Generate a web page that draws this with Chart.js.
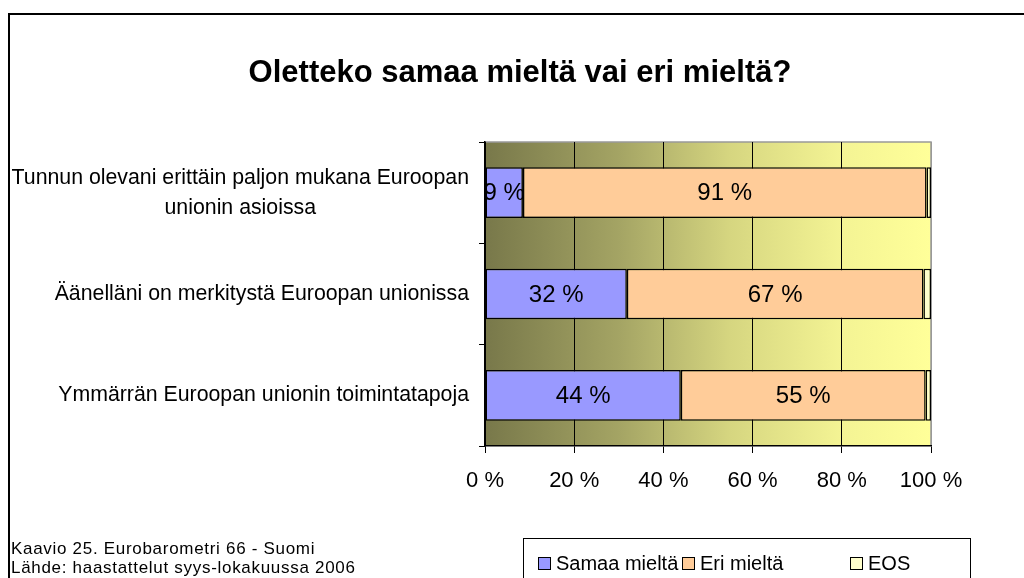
<!DOCTYPE html>
<html>
<head>
<meta charset="utf-8">
<script src="https://cdn.jsdelivr.net/npm/chart.js@4/dist/chart.umd.min.js"></script>
<style>
  html, body { margin: 0; padding: 0; background: #fff; }
  #wrap { width: 1024px; height: 578px; position: relative; }
</style>
</head>
<body>
<div id="wrap"><canvas id="myChart" width="1024" height="578"></canvas></div>
<script>
const categories = [
  ['Tunnun olevani erittäin paljon mukana Euroopan', 'unionin asioissa'],
  ['Äänelläni on merkitystä Euroopan unionissa'],
  ['Ymmärrän Euroopan unionin toimintatapoja']
];
const seriesNames = ['Samaa mieltä', 'Eri mieltä', 'EOS'];
const samaa = [8.5, 31.8, 43.9];
const eri = [90.5, 66.5, 54.9];
const eos = [1.0, 1.7, 1.2];
const xTicks = [0, 20, 40, 60, 80, 100];
const colors = ['#9999ff', '#ffcc99', '#ffffcc'];

const FONT = 'Arial, "Liberation Sans", sans-serif';
const ctx = document.getElementById('myChart').getContext('2d');

const frame = {
  id: 'frame',
  beforeDraw(chart) {
    const c = chart.ctx;
    const a = chart.chartArea;
    c.save();
    c.fillStyle = '#fff';
    c.fillRect(0, 0, chart.width, chart.height);
    // outer border (top + left only visible)
    c.strokeStyle = '#000';
    c.lineWidth = 2;
    c.beginPath();
    c.moveTo(9, chart.height + 2);
    c.lineTo(9, 14);
    c.lineTo(chart.width + 2, 14);
    c.stroke();
    // plot background gradient
    const g = c.createLinearGradient(a.left, 0, a.right, 0);
    g.addColorStop(0, '#78784a');
    g.addColorStop(0.3, '#a4a464');
    g.addColorStop(0.55, '#d6d680');
    g.addColorStop(0.8, '#f4f494');
    g.addColorStop(1, '#ffff99');
    c.fillStyle = g;
    c.fillRect(a.left, a.top, a.right - a.left, a.bottom - a.top);
    c.strokeStyle = '#999';
    c.lineWidth = 1.5;
    c.beginPath();
    c.moveTo(a.left, a.top);
    c.lineTo(a.right, a.top);
    c.lineTo(a.right, a.bottom);
    c.stroke();
    c.restore();
  },
  afterDraw(chart) {
    const c = chart.ctx;
    const y = chart.scales.y;
    const a = chart.chartArea;
    c.save();
    c.fillStyle = '#000';
    c.textBaseline = 'middle';
    // category labels: block right-aligned, lines centred in block
    c.font = '21.3px ' + FONT;
    categories.forEach((lines, i) => {
      const cy = y.getPixelForValue(i);
      const w = Math.max(...lines.map(l => c.measureText(l).width));
      const cx = a.left - 16 - w / 2;
      const lh = 30;
      lines.forEach((l, j) => {
        c.textAlign = 'center';
        c.fillText(l, cx, cy + (j - (lines.length - 1) / 2) * lh);
      });
    });
    // segment value labels
    c.font = '24px ' + FONT;
    c.textAlign = 'center';
    [0, 1].forEach(di => {
      const meta = chart.getDatasetMeta(di);
      meta.data.forEach((bar, i) => {
        const v = chart.data.datasets[di].data[i];
        const p = bar.getProps(['x', 'base', 'y'], true);
        c.fillText(Math.round(v) + ' %', (p.x + p.base) / 2, p.y + 1);
      });
    });
    // footnote
    c.font = '17px ' + FONT;
    c.letterSpacing = '0.7px';
    c.textAlign = 'left';
    c.fillText('Kaavio 25. Eurobarometri 66 - Suomi', 11, 549);
    c.fillText('Lähde: haastattelut syys-lokakuussa 2006', 11, 568);
    c.letterSpacing = '0px';
    // legend
    c.strokeStyle = '#000';
    c.lineWidth = 1;
    c.strokeRect(523.5, 538.5, 447, 60);
    const lx = [538, 682, 850];
    c.font = '20px ' + FONT;
    chart.data.datasets.forEach((ds, i) => {
      c.fillStyle = ds.backgroundColor;
      c.fillRect(lx[i], 557, 12, 12);
      c.strokeRect(lx[i] + 0.5, 557.5, 12, 12);
      c.fillStyle = '#000';
      c.fillText(ds.label, lx[i] + 18, 564);
    });
    c.restore();
  }
};

const myChart = new Chart(ctx, {
  type: 'bar',
  data: {
    labels: categories,
    datasets: [
      {label: seriesNames[0], data: samaa, backgroundColor: colors[0]},
      {label: seriesNames[1], data: eri, backgroundColor: colors[1]},
      {label: seriesNames[2], data: eos, backgroundColor: colors[2]}
    ].map(d => Object.assign(d, {
      borderColor: '#000',
      borderWidth: 1.5,
      borderSkipped: false,
      categoryPercentage: 1,
      barPercentage: 0.5
    }))
  },
  options: {
    indexAxis: 'y',
    responsive: false,
    animation: false,
    layout: {padding: {left: 109, right: 93, top: 0, bottom: 40}},
    plugins: {
      legend: {display: false},
      tooltip: {enabled: false},
      title: {
        display: true,
        text: 'Oletteko samaa mieltä vai eri mieltä?',
        color: '#000',
        font: {family: FONT, size: 31, weight: 'bold', lineHeight: 1.2},
        padding: {top: 54.4, bottom: 50.4}
      }
    },
    scales: {
      x: {
        stacked: true,
        min: 0,
        max: 100,
        afterBuildTicks: s => { s.ticks = xTicks.map(v => ({value: v})); },
        afterFit: s => { s.height = 92; },
        ticks: {
          color: '#000',
          font: {family: FONT, size: 22},
          padding: 15,
          maxRotation: 0,
          callback: v => v + ' %'
        },
        grid: {
          color: ctx => ctx.tick && ctx.tick.value === 100 ? '#999' : '#000',
          lineWidth: 1,
          tickLength: 7,
          tickColor: '#000'
        },
        border: {color: '#000', width: 1.5}
      },
      y: {
        stacked: true,
        afterFit: s => { s.width = 485 - 109; },
        ticks: {display: false},
        grid: {
          offset: true,
          drawOnChartArea: false,
          tickLength: 6,
          color: '#000'
        },
        border: {color: '#000', width: 1.5}
      }
    }
  },
  plugins: [frame]
});
</script>
</body>
</html>
